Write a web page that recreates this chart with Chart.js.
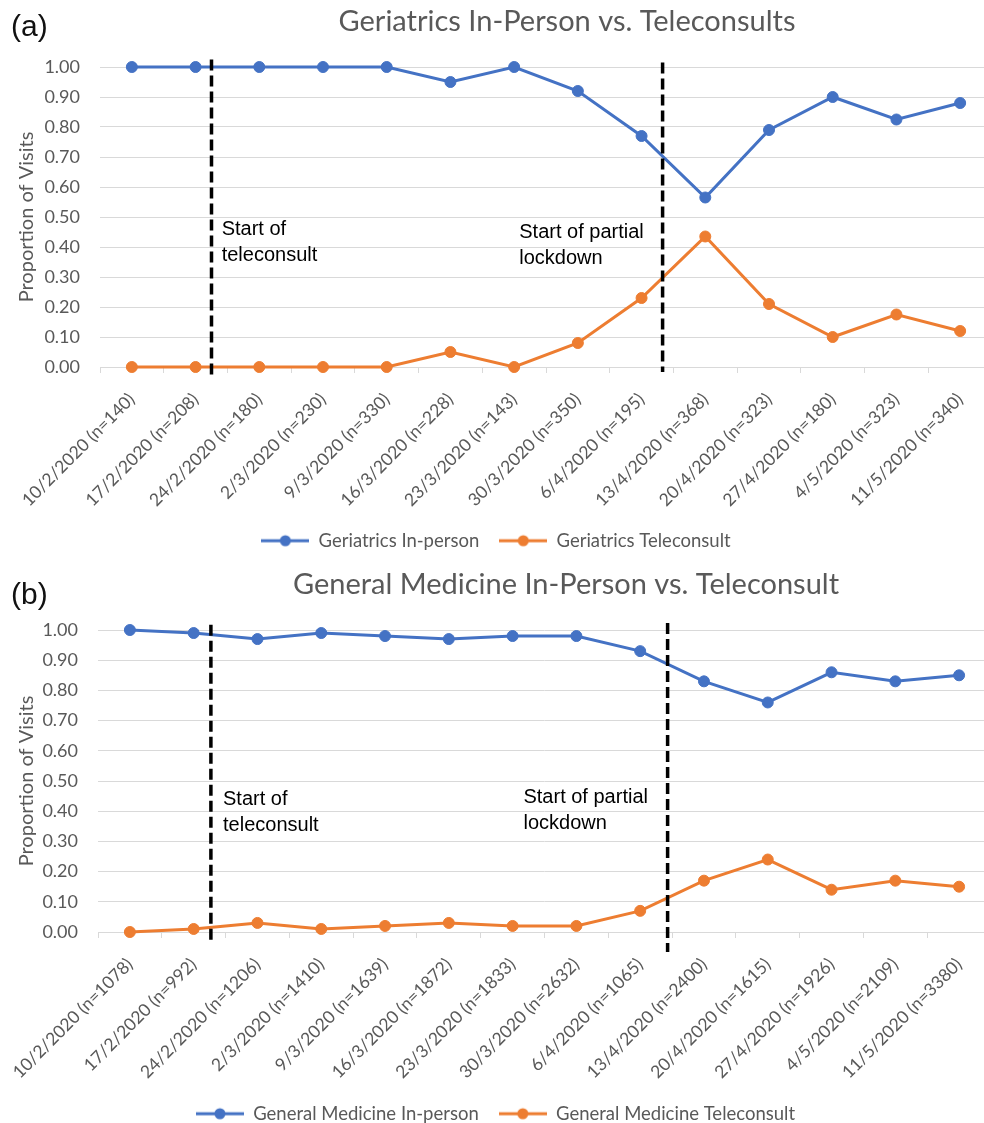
<!DOCTYPE html>
<html>
<head>
<meta charset="utf-8">
<script src="https://cdn.jsdelivr.net/npm/chart.js@4.4.0/dist/chart.umd.min.js"></script>
<style>
  html, body { margin: 0; padding: 0; background: #fff; overflow: hidden; width: 984px; height: 1123px; }
  .panel { position: absolute; left: 0; }
  #panelA { top: 0; }
  #panelB { top: 563px; }
</style>
</head>
<body>
<canvas id="panelA" class="panel" width="1000" height="580"></canvas>
<canvas id="panelB" class="panel" width="1000" height="580"></canvas>
<script>
// weeks shown on the x axis
const weeks = ["10/2/2020", "17/2/2020", "24/2/2020", "2/3/2020", "9/3/2020", "16/3/2020", "23/3/2020",
  "30/3/2020", "6/4/2020", "13/4/2020", "20/4/2020", "27/4/2020", "4/5/2020", "11/5/2020"];

// (a) geriatrics
const geriatricsN = [140, 208, 180, 230, 330, 228, 143, 350, 195, 368, 323, 180, 323, 340];
const geriatricsInPerson = [1.00, 1.00, 1.00, 1.00, 1.00, 0.95, 1.00, 0.92, 0.77, 0.565, 0.79, 0.90, 0.825, 0.88];
const geriatricsTele = [0.00, 0.00, 0.00, 0.00, 0.00, 0.05, 0.00, 0.08, 0.23, 0.435, 0.21, 0.10, 0.175, 0.12];

// (b) general medicine
const medicineN = [1078, 992, 1206, 1410, 1639, 1872, 1833, 2632, 1065, 2400, 1615, 1926, 2109, 3380];
const medicineInPerson = [1.00, 0.99, 0.97, 0.99, 0.98, 0.97, 0.98, 0.98, 0.93, 0.83, 0.76, 0.86, 0.83, 0.85];
const medicineTele = [0.00, 0.01, 0.03, 0.01, 0.02, 0.03, 0.02, 0.02, 0.07, 0.17, 0.24, 0.14, 0.17, 0.15];

const BLUE = "#4472C4";
const ORANGE = "#ED7D31";
const GREY = "#595959";
const GRID = "#d9d9d9";
const EXCEL_FONT = "Lato";
const NOTE_FONT = '"Liberation Sans", Arial, sans-serif';

// line with a dot, like the Excel legend key
function legendKey(color) {
  const c = document.createElement("canvas");
  c.width = 48;
  c.height = 14;
  const g = c.getContext("2d");
  g.strokeStyle = color;
  g.lineWidth = 3;
  g.beginPath();
  g.moveTo(0, 7);
  g.lineTo(48, 7);
  g.stroke();
  g.fillStyle = color;
  g.beginPath();
  g.arc(24, 7, 5.5, 0, Math.PI * 2);
  g.fill();
  return c;
}

// title, panel letter, dashed event lines and their notes
const panelDecor = {
  id: "panelDecor",
  afterDatasetsDraw(chart, args, opts) {
    const { ctx } = chart;
    const x = chart.scales.x;
    const y = chart.scales.y;
    ctx.save();
    opts.markers.forEach((m) => {
      const px = x.getPixelForValue(m.at);
      ctx.beginPath();
      ctx.setLineDash([11, 5]);
      ctx.lineWidth = 3.5;
      ctx.strokeStyle = "#000";
      ctx.moveTo(px, y.getPixelForValue(m.from));
      ctx.lineTo(px, y.getPixelForValue(m.to));
      ctx.stroke();
      ctx.setLineDash([]);

      ctx.font = "20px " + NOTE_FONT;
      ctx.fillStyle = "#000";
      ctx.textAlign = "left";
      ctx.textBaseline = "middle";
      const tx = x.getPixelForValue(m.noteAt);
      let ty = y.getPixelForValue(m.noteY);
      m.note.forEach((line) => {
        ctx.fillText(line, tx, ty);
        ty += 26;
      });
    });
    ctx.restore();
  },
  afterDraw(chart, args, opts) {
    const { ctx } = chart;
    ctx.save();
    ctx.textBaseline = "middle";
    ctx.fillStyle = GREY;
    ctx.textAlign = "center";
    ctx.font = "29px " + EXCEL_FONT;
    ctx.fillText(opts.title, opts.titleX, opts.titleY);
    ctx.fillStyle = "#111";
    ctx.textAlign = "left";
    ctx.font = "30px " + NOTE_FONT;
    ctx.fillText(opts.letter, 11, opts.letterY);
    ctx.restore();
  }
};

function makePanel(id, cfg) {
  const labels = weeks.map((w, i) => w + " (n=" + cfg.n[i] + ")");
  const keys = [legendKey(BLUE), legendKey(ORANGE)];
  const series = (label, data, color) => ({
    label: label,
    data: data,
    borderColor: color,
    backgroundColor: color,
    borderWidth: 3,
    pointRadius: 5.5,
    pointHoverRadius: 5.5,
    pointBorderWidth: 1,
    tension: 0,
    clip: false
  });

  return new Chart(document.getElementById(id), {
    type: "line",
    data: {
      labels: labels,
      datasets: [
        series(cfg.names[0], cfg.inPerson, BLUE),
        series(cfg.names[1], cfg.tele, ORANGE)
      ]
    },
    options: {
      responsive: false,
      animation: false,
      layout: { padding: { top: 67, left: 0, right: cfg.padRight, bottom: cfg.padBottom } },
      scales: {
        x: {
          offset: true,
          grid: { offset: true, drawOnChartArea: false, drawTicks: true, tickLength: 6, color: GRID },
          border: { display: true, color: GRID, width: 1 },
          ticks: {
            autoSkip: false,
            maxRotation: 45,
            minRotation: 45,
            padding: 16,
            color: GREY,
            font: { family: EXCEL_FONT, size: 17.5 }
          },
          afterFit(scale) {
            // the rotated labels may hang past the y axis; don't let them push the plot
            scale.height = cfg.xAxisHeight;
            scale.paddingLeft = 0;
            scale.paddingRight = 0;
          }
        },
        y: {
          min: 0,
          max: 1,
          grid: { color: GRID, drawTicks: false },
          border: { display: false },
          ticks: {
            stepSize: 0.1,
            padding: 20,
            color: GREY,
            font: { family: EXCEL_FONT, size: 18 },
            callback: (v) => Number(v).toFixed(2)
          },
          title: {
            display: true,
            text: "Proportion of Visits",
            color: GREY,
            font: { family: EXCEL_FONT, size: 20 },
            padding: { top: 15, bottom: 0 }
          },
          afterFit(scale) { scale.width = cfg.yAxisWidth; }
        }
      },
      plugins: {
        tooltip: { enabled: false },
        legend: {
          position: "bottom",
          labels: {
            usePointStyle: true,
            pointStyleWidth: 48,
            padding: 20,
            color: GREY,
            font: { family: EXCEL_FONT, size: 18.5 },
            generateLabels(chart) {
              const items = Chart.defaults.plugins.legend.labels.generateLabels(chart);
              items.forEach((it, i) => { it.pointStyle = keys[i]; });
              return items;
            }
          }
        },
        panelDecor: {
          title: cfg.title,
          titleX: cfg.titleX,
          titleY: 22,
          letter: cfg.letter,
          letterY: cfg.letterY,
          markers: cfg.markers
        }
      }
    },
    plugins: [panelDecor]
  });
}

function build() {
  makePanel("panelA", {
    n: geriatricsN,
    inPerson: geriatricsInPerson,
    tele: geriatricsTele,
    names: ["Geriatrics In-person", "Geriatrics Teleconsult"],
    title: "Geriatrics In-Person vs. Teleconsults",
    titleX: 567,
    letter: "(a)",
    letterY: 28,
    padRight: 8,
    padBottom: 20,
    xAxisHeight: 144.5,
    yAxisWidth: 100,
    markers: [
      { at: 1.25, from: 1.025, to: -0.035, noteAt: 1.41, noteY: 0.457, note: ["Start of", "teleconsult"] },
      { at: 8.33, from: 1.015, to: -0.017, noteAt: 6.08, noteY: 0.45, note: ["Start of partial", "lockdown"] }
    ]
  });
  makePanel("panelB", {
    n: medicineN,
    inPerson: medicineInPerson,
    tele: medicineTele,
    names: ["General Medicine In-person", "General Medicine Teleconsult"],
    title: "General Medicine In-Person vs. Teleconsult",
    titleX: 566,
    letter: "(b)",
    letterY: 33,
    padRight: 9,
    padBottom: 10,
    xAxisHeight: 152.5,
    yAxisWidth: 98,
    markers: [
      { at: 1.27, from: 1.017, to: -0.036, noteAt: 1.46, noteY: 0.44, note: ["Start of", "teleconsult"] },
      { at: 8.43, from: 1.023, to: -0.066, noteAt: 6.17, noteY: 0.447, note: ["Start of partial", "lockdown"] }
    ]
  });
}

Promise.all([
  document.fonts.load("17px Lato"),
  document.fonts.load('19px "Liberation Sans"')
]).then(build, build);
</script>
</body>
</html>
